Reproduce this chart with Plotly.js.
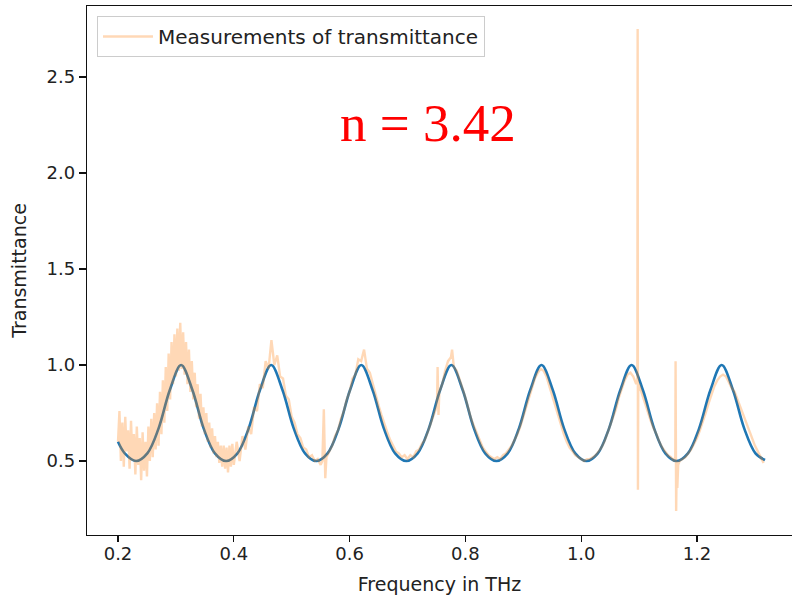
<!DOCTYPE html>
<html>
<head>
<meta charset="utf-8">
<script src="https://cdn.plot.ly/plotly-3.0.1.min.js"></script>
<style>html,body{margin:0;padding:0;background:#fff;}#chart{width:792px;height:597px;}</style>
</head>
<body>
<div id="chart"></div>
<script>
// Fitted model curve
var modelFreq = [0.2000,0.2117,0.2312,0.2506,0.2701,0.2895,0.3090,0.3285,0.3479,0.3674,0.3868,0.4063,0.4257,0.4452,0.4646,0.4841,0.5035,0.5230,0.5424,0.5619,0.5813,0.6008,0.6202,0.6397,0.6591,0.6786,0.6980,0.7175,0.7369,0.7564,0.7758,0.7953,0.8147,0.8342,0.8536,0.8731,0.8925,0.9120,0.9314,0.9509,0.9703,0.9898,1.0092,1.0287,1.0481,1.0676,1.0870,1.1065,1.1259,1.1454,1.1648,1.1843,1.2037,1.2232,1.2426,1.2621,1.2815,1.3010,1.3175];
var modelTrans = [0.60,0.54,0.50,0.54,0.67,0.87,1.00,0.87,0.67,0.54,0.50,0.54,0.67,0.87,1.00,0.87,0.67,0.54,0.50,0.54,0.67,0.87,1.00,0.87,0.67,0.54,0.50,0.54,0.67,0.87,1.00,0.87,0.67,0.54,0.50,0.54,0.67,0.87,1.00,0.87,0.67,0.54,0.50,0.54,0.67,0.87,1.00,0.87,0.67,0.54,0.50,0.54,0.67,0.87,1.00,0.87,0.67,0.54,0.505];

var measFreq = [
 0.2000,0.2025,0.2050,0.2075,0.2100,0.2125,0.2150,0.2175,0.2200,0.2225,0.2250,0.2275,0.2300,0.2325,0.2350,0.2375,0.2400,0.2425,0.2450,0.2475,
 0.2500,0.2525,0.2550,0.2575,0.2600,0.2625,0.2650,0.2675,0.2700,0.2725,0.2750,0.2775,0.2800,0.2825,0.2850,0.2875,0.2900,0.2925,0.2950,0.2975,
 0.3000,0.3025,0.3050,0.3075,0.3100,0.3125,0.3150,0.3175,0.3200,0.3225,0.3250,0.3275,0.3300,0.3325,0.3350,0.3375,0.3400,0.3425,0.3450,0.3475,
 0.3500,0.3525,0.3550,0.3575,0.3600,0.3625,0.3650,0.3675,0.3700,0.3725,0.3750,0.3775,0.3800,0.3825,0.3850,0.3875,0.3900,0.3925,0.3950,0.3975,0.4000,
 0.405,0.410,0.415,0.420,0.425,0.430,0.435,0.440,0.445,0.450,0.455,0.460,0.465,0.470,0.475,0.480,0.485,0.490,0.495,0.500,0.505,0.510,0.515,0.520,0.525,0.530,0.535,0.540,0.545,0.550,
 0.553,0.5555,0.558,0.560,0.565,0.570,0.575,0.580,0.585,0.590,0.595,0.600,0.605,0.610,0.615,0.620,0.625,0.630,0.635,0.640,0.645,0.650,0.655,0.660,0.665,0.670,0.675,0.680,0.685,0.690,0.695,0.700,0.705,0.710,0.715,0.720,0.725,0.730,0.735,0.740,0.745,0.750,
 0.751,0.752,0.7535,0.755,0.760,0.765,0.770,0.775,0.777,0.780,0.785,0.790,0.795,0.800,0.805,0.810,0.815,0.820,0.825,0.830,0.835,0.840,0.845,0.850,0.855,0.860,0.865,0.870,0.875,0.880,0.885,0.890,0.895,0.900,0.905,0.910,0.915,0.920,0.925,0.930,0.935,0.940,0.945,0.950,0.955,0.960,0.965,0.970,0.975,0.980,0.985,0.990,0.995,1.000,1.005,1.010,1.015,1.020,1.025,1.030,1.035,1.040,1.045,1.050,1.055,1.060,1.065,1.070,1.075,1.080,1.085,1.090,1.095,
 1.0970,1.0975,1.0980,1.0985,1.100,1.105,1.110,1.115,1.120,1.125,1.130,1.135,1.140,1.145,1.150,1.155,1.160,1.1625,1.1630,1.1640,1.1650,1.1660,1.1675,1.170,1.175,1.180,1.185,1.190,1.195,1.200,1.205,1.210,1.215,1.220,1.225,1.230,1.235,1.240,1.245,1.250,1.255,1.260,1.265,1.270,1.275,1.280,1.285,1.290,1.295,1.300,1.305,1.310,1.315];
var measTrans = [
 0.60,0.76,0.50,0.70,0.47,0.73,0.55,0.66,0.46,0.71,0.50,0.64,0.43,0.68,0.48,0.62,0.40,0.65,0.45,0.60,
 0.42,0.68,0.50,0.72,0.52,0.75,0.56,0.80,0.58,0.86,0.64,0.92,0.70,0.99,0.76,1.06,0.82,1.12,0.90,1.16,
 0.94,1.19,0.97,1.22,0.98,1.17,0.95,1.12,0.90,1.08,0.86,1.02,0.82,0.96,0.78,0.90,0.72,0.85,0.68,0.78,
 0.64,0.75,0.60,0.70,0.57,0.67,0.54,0.63,0.52,0.60,0.49,0.58,0.47,0.58,0.46,0.57,0.44,0.58,0.47,0.59,0.48,
 0.60,0.50,0.63,0.56,0.68,0.64,0.78,0.76,0.90,0.88,1.02,0.98,1.13,1.00,1.05,0.94,0.93,0.84,0.82,0.73,0.70,0.64,0.62,0.57,0.56,0.52,0.53,0.50,0.51,0.48,
 0.50,0.77,0.41,0.52,0.55,0.58,0.63,0.66,0.72,0.76,0.82,0.86,0.93,0.95,1.03,1.02,1.08,0.98,0.96,0.90,0.85,0.79,0.74,0.69,0.65,0.61,0.58,0.55,0.54,0.52,0.53,0.51,0.53,0.52,0.55,0.56,0.59,0.61,0.65,0.69,0.73,0.78,
 0.80,0.99,0.74,0.86,0.90,0.97,1.02,1.04,1.08,0.99,0.97,0.93,0.88,0.83,0.77,0.72,0.68,0.64,0.60,0.57,0.55,0.53,0.52,0.51,0.52,0.51,0.53,0.54,0.56,0.58,0.61,0.64,0.68,0.73,0.78,0.83,0.88,0.93,0.96,0.98,0.97,0.94,0.89,0.84,0.78,0.73,0.68,0.64,0.60,0.57,0.55,0.53,0.52,0.51,0.50,0.51,0.51,0.52,0.53,0.55,0.57,0.60,0.64,0.68,0.72,0.77,0.83,0.88,0.92,0.95,0.96,0.94,0.90,
 0.92,2.75,0.35,0.86,0.90,0.85,0.80,0.76,0.71,0.67,0.64,0.60,0.57,0.55,0.53,0.52,0.50,0.52,1.02,0.24,0.50,0.36,0.48,0.50,0.51,0.52,0.54,0.56,0.59,0.62,0.66,0.70,0.75,0.80,0.85,0.89,0.92,0.94,0.95,0.94,0.91,0.88,0.86,0.82,0.78,0.73,0.69,0.65,0.61,0.58,0.55,0.52,0.49];

var xTickVals = [0.2,0.4,0.6,0.8,1.0,1.2];
var xTickText = ['0.2','0.4','0.6','0.8','1.0','1.2'];
var yTickVals = [0.5,1.0,1.5,2.0,2.5];
var yTickText = ['0.5','1.0','1.5','2.0','2.5'];

var legendLabel = 'Measurements of transmittance';
var noteText = 'n = 3.42';

var font = 'DejaVu Sans, sans-serif';

var traces = [
  {x: modelFreq, y: modelTrans, type: 'scatter', mode: 'lines',
   line: {color: '#1f77b4', width: 2.6, shape: 'spline', smoothing: 1},
   showlegend: false, hoverinfo: 'skip'},
  {x: measFreq, y: measTrans, type: 'scatter', mode: 'lines', name: legendLabel,
   line: {color: 'rgba(255,127,14,0.3)', width: 2.4}}
];

var layout = {
  width: 792, height: 597,
  margin: {l: 87, r: 0, t: 6, b: 62},
  paper_bgcolor: '#ffffff', plot_bgcolor: '#ffffff',
  font: {family: font, size: 18, color: '#222'},
  xaxis: {
    range: [0.14646, 1.36408], showgrid: false, zeroline: false,
    showline: true, linecolor: '#111', linewidth: 1.3, mirror: true,
    ticks: 'outside', ticklen: 6, tickwidth: 1.3, tickcolor: '#111',
    tickvals: xTickVals, ticktext: xTickText, ticklabelstandoff: -4,
    tickfont: {family: font, size: 18, color: '#222'},
    title: {text: 'Frequency in THz', font: {family: font, size: 19, color: '#222'}, standoff: 14}
  },
  yaxis: {
    range: [0.11458, 2.86979], showgrid: false, zeroline: false,
    showline: true, linecolor: '#111', linewidth: 1.3,
    ticks: 'outside', ticklen: 7, tickwidth: 1.3, tickcolor: '#111',
    tickvals: yTickVals, ticktext: yTickText,
    tickfont: {family: font, size: 18, color: '#222'},
    title: {text: 'Transmittance', font: {family: font, size: 19, color: '#222'}, standoff: 14}
  },
  legend: {
    x: 0.0142, y: 0.981, xanchor: 'left', yanchor: 'top',
    bgcolor: 'rgba(255,255,255,0.8)', bordercolor: '#cccccc', borderwidth: 1,
    font: {family: font, size: 20, color: '#222'}, itemwidth: 50
  },
  annotations: [{
    text: noteText, xref: 'paper', yref: 'paper', x: 0.4837, y: 0.779,
    xanchor: 'center', yanchor: 'middle', showarrow: false,
    font: {family: 'Liberation Serif, Times New Roman, serif', size: 53, color: '#ff0000'}
  }]
};

Plotly.newPlot('chart', traces, layout, {displayModeBar: false, staticPlot: true});
</script>
</body>
</html>
